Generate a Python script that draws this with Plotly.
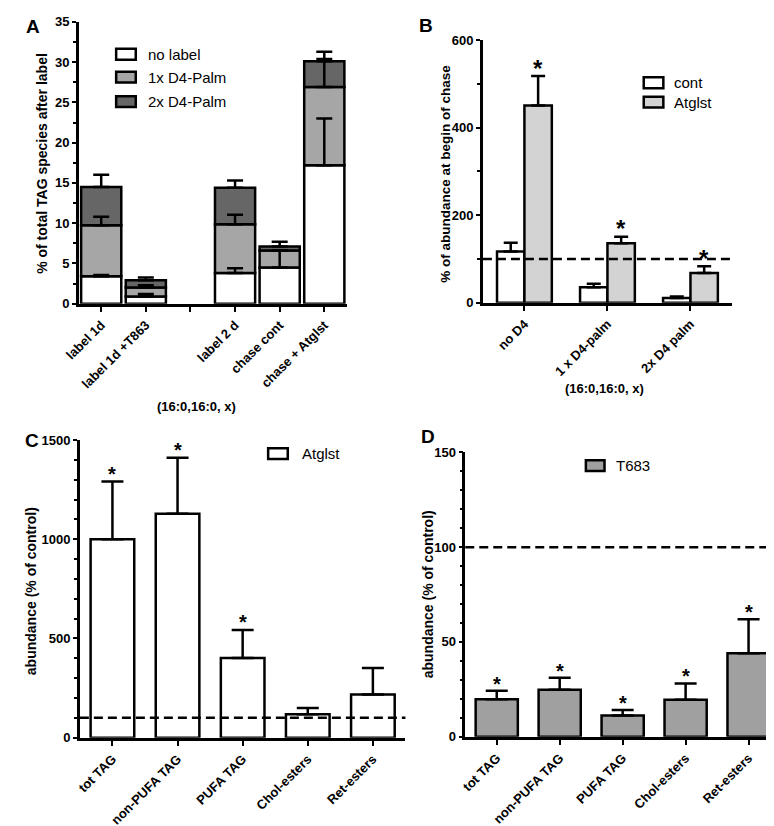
import numpy as np
import plotly.graph_objects as go

W, H = 774, 826
FONT = "Liberation Sans, Arial, sans-serif"

# ---- data ----
# A: stacked segments (% of total TAG species after label)
a_cats = ['label 1d', 'label 1d +T863', '', 'label 2 d', 'chase cont', 'chase + Atglst']
a_x = [0, 1, 3, 4, 5]
a_none = [3.4, 0.9, 3.8, 4.5, 17.2]
a_none_err = [0.15, 0.3, 0.6, 2.1, 5.8]
a_one = [6.35, 1.1, 6.05, 2.1, 9.7]
a_one_err = [1.05, 0.3, 1.2, 0.0, 3.5]
a_two = [4.75, 0.9, 4.55, 0.5, 3.2]
a_two_err = [1.5, 0.35, 0.9, 0.6, 1.2]

# B: % of abundance at begin of chase
b_cats = ['no D4', '1 x D4-palm', '2x D4 palm']
b_cont = [117, 35, 10.5]
b_cont_err = [20, 8, 3.5]
b_atgl = [451, 136, 68]
b_atgl_err = [67, 15, 15]
b_star = [True, True, True]

# C: Atglst, abundance (% of control)
cd_cats = ['tot TAG', 'non-PUFA TAG', 'PUFA TAG', 'Chol-esters', 'Ret-esters']
c_vals = [1000, 1129, 401, 118, 217]
c_err = [291, 282, 142, 31, 134]
c_star = [True, True, True, False, False]

# D: T683, abundance (% of control)
d_vals = [19.8, 24.7, 11.2, 19.5, 44]
d_err = [4.4, 6.4, 2.9, 8.6, 18]
d_star = [True, True, True, True, True]


def px(x):
    return x / W


def py(y):
    return 1 - y / H


def errbar(arr, w):
    return dict(type='data', array=arr, arrayminus=[0] * len(arr), symmetric=False,
                color='black', thickness=2.5, width=w)


fig = go.Figure()
line = dict(color='black', width=2.5)

# panel A stacked bars
cum = np.zeros(len(a_x))
for vals, errs, col, nm in [(a_none, a_none_err, 'white', 'no label'),
                            (a_one, a_one_err, '#a6a6a6', '1x D4-Palm'),
                            (a_two, a_two_err, '#666666', '2x D4-Palm')]:
    fig.add_trace(go.Bar(x=a_x, y=vals, base=cum.copy(), width=0.9, marker=dict(color=col, line=line),
                         name=nm, xaxis='x', yaxis='y', showlegend=False))
    cum = cum + np.array(vals)
# error bars on top of all segments
cum = np.zeros(len(a_x))
for vals, errs in [(a_none, a_none_err), (a_one, a_one_err), (a_two, a_two_err)]:
    cum = cum + np.array(vals)
    fig.add_trace(go.Scatter(x=a_x, y=cum.copy(), mode='markers', marker=dict(opacity=0),
                             error_y=errbar(errs, 8), xaxis='x', yaxis='y', showlegend=False))

# panel B grouped bars
bx = np.arange(len(b_cats))
bw = 0.33
fig.add_trace(go.Bar(x=bx - bw / 2, y=b_cont, width=bw, marker=dict(color='white', line=line),
                     error_y=errbar(b_cont_err, 7), xaxis='x2', yaxis='y2', showlegend=False))
fig.add_trace(go.Bar(x=bx + bw / 2, y=b_atgl, width=bw, marker=dict(color='#d3d3d3', line=line),
                     error_y=errbar(b_atgl_err, 7), xaxis='x2', yaxis='y2', showlegend=False))

# panel C and D
cx = np.arange(len(cd_cats))
fig.add_trace(go.Bar(x=cx, y=c_vals, width=0.67, marker=dict(color='white', line=line),
                     error_y=errbar(c_err, 11), xaxis='x3', yaxis='y3', showlegend=False))
fig.add_trace(go.Bar(x=cx, y=d_vals, width=0.67, marker=dict(color='#a0a0a0', line=line),
                     error_y=errbar(d_err, 11), xaxis='x4', yaxis='y4', showlegend=False))

tickfont = dict(family=FONT, size=13, color='black', weight='bold')


def xax(dom, n, labels, anchor):
    return dict(domain=[px(dom[0]), px(dom[1])], range=[-0.5, n - 0.5], anchor=anchor,
                tickvals=list(range(n)), ticktext=labels, tickangle=-45, tickfont=tickfont,
                showline=True, linecolor='black', linewidth=2.5, ticks='outside', ticklen=6,
                tickwidth=2, tickcolor='black', showgrid=False, zeroline=False, fixedrange=True)


def yax(dom, rng, dt, mdt, anchor):
    return dict(domain=[py(dom[0]), py(dom[1])], range=rng, anchor=anchor, dtick=dt,
                tickfont=tickfont, showline=True, linecolor='black', linewidth=2.5,
                ticks='outside', ticklen=4, tickwidth=2, tickcolor='black', showgrid=False,
                zeroline=False, minor=dict(dtick=mdt, ticks='outside', ticklen=3, tickwidth=2,
                                           tickcolor='black', showgrid=False))


fig.update_layout(
    width=W, height=H, margin=dict(l=0, r=0, t=0, b=0),
    plot_bgcolor='white', paper_bgcolor='white', barmode='overlay',
    xaxis=xax((57, 330), 6, a_cats, 'y'),
    yaxis=yax((294, 7), [0, 35], 5, 2.5, 'x'),
    xaxis2=xax((469, 723), 3, b_cats, 'y2'),
    yaxis2=yax((293, 25.7), [0, 600], 200, 100, 'x2'),
    xaxis3=xax((58, 390), 5, cd_cats, 'y3'),
    yaxis3=yax((736, 433), [0, 1500], 500, 100, 'x3'),
    xaxis4=xax((451, 772), 5, cd_cats, 'y4'),
    yaxis4=yax((735, 445.5), [0, 150], 50, 10, 'x4'),
)

# dashed 100% lines
for xr, yr in [('x2', 'y2'), ('x3', 'y3'), ('x4', 'y4')]:
    fig.add_shape(type='line', xref=xr + ' domain', yref=yr, x0=0, x1=1, y0=100, y1=100,
                  line=dict(color='black', width=2.5, dash='9px,5px'))


# significance stars
def stars(xs, vals, errs, flags, xr, yr, size, shift):
    for xv, v, e, f in zip(xs, vals, errs, flags):
        if f:
            fig.add_annotation(x=xv, y=v + e, xref=xr, yref=yr, text='*', showarrow=False,
                               yanchor='middle', yshift=shift,
                               font=dict(family=FONT, size=size, color='black', weight='bold'))


stars(bx + bw / 2, b_atgl, b_atgl_err, b_star, 'x2', 'y2', 24, 8)
stars(cx, c_vals, c_err, c_star, 'x3', 'y3', 20, 8)
stars(cx, d_vals, d_err, d_star, 'x4', 'y4', 20, 7)

# legends drawn as boxes + text
legend_items = [
    (95, 115, 40, 'white', 'no label', 125),
    (95, 115, 63.3, '#a6a6a6', '1x D4-Palm', 125),
    (95, 115, 88.3, '#666666', '2x D4-Palm', 125),
    (633, 653, 69, 'white', 'cont', 662),
    (633, 653, 88.7, '#d3d3d3', 'Atglst', 662),
    (250, 270, 446.7, 'white', 'Atglst', 282),
    (574, 593, 459, '#a0a0a0', 'T683', 603),
]
for x0, x1, yc, col, txt, tx in legend_items:
    fig.add_shape(type='rect', xref='paper', yref='paper', x0=px(x0), x1=px(x1),
                  y0=py(yc + 5.5), y1=py(yc - 5.5), fillcolor=col, line=dict(color='black', width=2.5))
    fig.add_annotation(x=px(tx), y=py(yc), xref='paper', yref='paper', text=txt, showarrow=False,
                       xanchor='left', yanchor='middle', font=dict(family=FONT, size=15, color='black'))

# panel letters, axis titles
bold = dict(family=FONT, color='black', weight='bold')
for txt, x, y in [('A', 10, 12), ('B', 411, 11), ('C', 9, 433), ('D', 413, 429)]:
    fig.add_annotation(x=px(x), y=py(y), xref='paper', yref='paper', text=txt, showarrow=False,
                       xanchor='center', yanchor='middle', font=dict(size=19, **bold))
for txt, x, y, s in [('% of total TAG species after label', 20, 151, 14),
                     ('% of abundance at begin of chase', 430, 162, 13.5),
                     ('abundance (% of control)', 9, 587, 14),
                     ('abundance (% of control)', 413, 590, 14)]:
    fig.add_annotation(x=px(x), y=py(y), xref='paper', yref='paper', text=txt, showarrow=False,
                       textangle=-90, xanchor='center', yanchor='middle', font=dict(size=s, **bold))
for x, y in [(177, 399), (593, 380)]:
    fig.add_annotation(x=px(x), y=py(y), xref='paper', yref='paper', text='(16:0,16:0, x)',
                       showarrow=False, xanchor='center', yanchor='middle', font=dict(size=13, **bold))

fig.write_html("out.html")
